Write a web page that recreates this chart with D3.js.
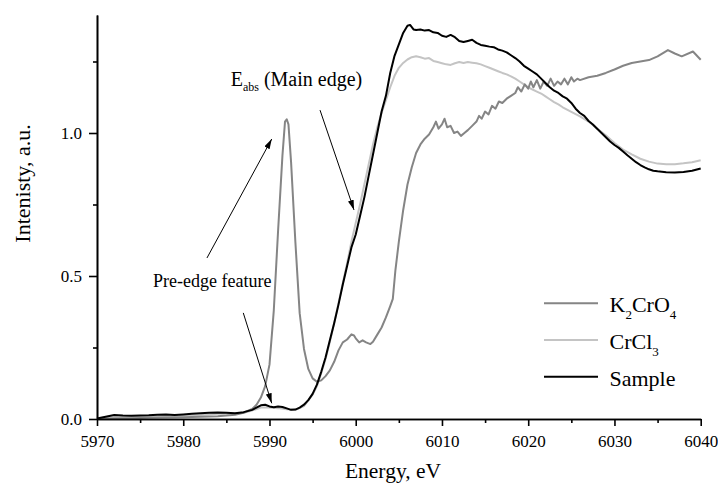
<!DOCTYPE html>
<html>
<head>
<meta charset="utf-8">
<script src="https://cdn.jsdelivr.net/npm/d3@7"></script>
<style>
  body { margin: 0; background: #fff; }
  svg { display: block; }
</style>
</head>
<body>
<svg id="chart" width="718" height="493"></svg>
<script>
// Sample (black)
const sampleEnergy = [5970, 5971, 5972, 5973, 5974, 5975, 5976, 5977, 5978, 5979, 5980, 5981, 5982, 5983, 5984, 5985, 5986, 5987, 5988, 5989, 5989.5, 5990, 5990.5, 5991, 5991.5, 5992, 5992.5, 5993, 5993.5, 5994, 5994.5, 5995, 5995.5, 5996, 5996.5, 5997, 5997.5, 5998, 5998.5, 5999, 5999.5, 6000, 6000.5, 6001, 6001.5, 6002, 6002.5, 6003, 6003.5, 6004, 6004.5, 6005, 6005.5, 6006, 6006.3, 6006.7, 6007, 6007.5, 6008, 6008.5, 6009, 6009.5, 6010, 6010.5, 6011, 6011.5, 6012, 6012.5, 6013, 6013.5, 6014, 6014.5, 6015, 6015.5, 6016, 6016.5, 6017, 6017.5, 6018, 6018.5, 6019, 6019.5, 6020, 6020.5, 6021, 6021.5, 6022, 6022.5, 6023, 6023.5, 6024, 6024.5, 6025, 6025.5, 6026, 6026.5, 6027, 6027.5, 6028, 6028.5, 6029, 6029.5, 6030, 6030.5, 6031, 6031.5, 6032, 6032.5, 6033, 6033.5, 6034, 6034.5, 6035, 6036, 6037, 6038, 6039, 6040];
const sampleIntensity = [0.002, 0.008, 0.014, 0.012, 0.011, 0.012, 0.013, 0.015, 0.016, 0.014, 0.016, 0.018, 0.02, 0.022, 0.023, 0.022, 0.02, 0.024, 0.032, 0.048, 0.05, 0.044, 0.041, 0.044, 0.042, 0.037, 0.032, 0.033, 0.04, 0.05, 0.066, 0.088, 0.12, 0.165, 0.215, 0.275, 0.335, 0.4, 0.47, 0.535, 0.6, 0.645, 0.71, 0.775, 0.85, 0.925, 1.0, 1.075, 1.13, 1.21, 1.27, 1.31, 1.35, 1.375, 1.378, 1.362, 1.36, 1.362, 1.358, 1.36, 1.352, 1.35, 1.34, 1.336, 1.343, 1.335, 1.322, 1.318, 1.322, 1.326, 1.315, 1.308, 1.305, 1.302, 1.3, 1.292, 1.288, 1.282, 1.272, 1.262, 1.25, 1.235, 1.225, 1.215, 1.205, 1.19, 1.175, 1.16, 1.148, 1.14, 1.128, 1.12, 1.105, 1.085, 1.07, 1.06, 1.042, 1.03, 1.015, 1.0, 0.985, 0.97, 0.958, 0.948, 0.935, 0.922, 0.91, 0.898, 0.888, 0.88, 0.873, 0.868, 0.866, 0.863, 0.862, 0.864, 0.868, 0.876];

// CrCl3 (light gray)
const crcl3Energy = [5970, 5972, 5974, 5976, 5978, 5980, 5982, 5984, 5986, 5987, 5988, 5989, 5990, 5991, 5992, 5993, 5994, 5995, 5995.5, 5996, 5996.5, 5997, 5997.5, 5998, 5998.5, 5999, 5999.5, 6000, 6000.5, 6001, 6001.5, 6002, 6002.5, 6003, 6003.5, 6004, 6004.5, 6005, 6005.5, 6006, 6006.5, 6007, 6007.5, 6008, 6008.5, 6009, 6009.5, 6010, 6010.5, 6011, 6011.5, 6012, 6012.5, 6013, 6013.5, 6014, 6014.5, 6015, 6015.5, 6016, 6016.5, 6017, 6017.5, 6018, 6018.5, 6019, 6019.5, 6020, 6020.5, 6021, 6021.5, 6022, 6022.5, 6023, 6023.5, 6024, 6024.5, 6025, 6026, 6027, 6028, 6029, 6030, 6031, 6032, 6033, 6034, 6035, 6036, 6037, 6038, 6039, 6040];
const crcl3Intensity = [0.0, 0.006, 0.008, 0.009, 0.01, 0.012, 0.014, 0.018, 0.018, 0.022, 0.03, 0.04, 0.04, 0.038, 0.034, 0.032, 0.045, 0.085, 0.115, 0.16, 0.21, 0.27, 0.335, 0.405, 0.475, 0.545, 0.62, 0.685, 0.75, 0.82, 0.89, 0.96, 1.02, 1.07, 1.115, 1.16, 1.2, 1.228, 1.245, 1.257, 1.265, 1.268, 1.265, 1.26, 1.262, 1.252, 1.248, 1.244, 1.24, 1.238, 1.244, 1.248, 1.245, 1.248, 1.246, 1.244, 1.24, 1.234, 1.228, 1.222, 1.216, 1.21, 1.205, 1.198, 1.19, 1.18, 1.17, 1.16, 1.152, 1.145, 1.138, 1.128, 1.118, 1.108, 1.1, 1.09, 1.082, 1.074, 1.058, 1.04, 1.015, 0.992, 0.965, 0.942, 0.925, 0.91, 0.9, 0.893, 0.891, 0.891, 0.894, 0.898, 0.905];

// K2CrO4 (medium gray)
const k2cro4Energy = [5970, 5972, 5974, 5976, 5978, 5980, 5982, 5984, 5985, 5986, 5987, 5988, 5988.5, 5989, 5989.5, 5990, 5990.5, 5991, 5991.5, 5991.8, 5992, 5992.2, 5992.5, 5993, 5993.5, 5994, 5994.5, 5995, 5995.5, 5996, 5996.5, 5997, 5997.5, 5998, 5998.5, 5999, 5999.5, 5999.8, 6000, 6000.4, 6000.8, 6001.2, 6001.7, 6002, 6002.5, 6003, 6003.5, 6004, 6004.3, 6004.6, 6005, 6005.5, 6006, 6006.5, 6007, 6007.5, 6008, 6008.5, 6009, 6009.3, 6009.6, 6010, 6010.3, 6010.6, 6011, 6011.4, 6011.8, 6012.2, 6012.6, 6013, 6013.5, 6014, 6014.3, 6014.6, 6015, 6015.4, 6015.8, 6016.2, 6016.6, 6017, 6017.5, 6018, 6018.5, 6018.8, 6019.2, 6019.6, 6020, 6020.3, 6020.6, 6021, 6021.4, 6021.8, 6022.2, 6022.6, 6023, 6023.4, 6023.8, 6024.2, 6024.6, 6025, 6025.3, 6025.7, 6026, 6027, 6028, 6029, 6030, 6031, 6032, 6033, 6034, 6035, 6036.2, 6037, 6037.8, 6039.1, 6040];
const k2cro4Intensity = [0.0, 0.002, 0.003, 0.004, 0.005, 0.006, 0.008, 0.01, 0.012, 0.015, 0.022, 0.035, 0.05, 0.075, 0.115, 0.19, 0.38, 0.66, 0.92, 1.04, 1.048, 1.03, 0.9, 0.62, 0.37, 0.245, 0.175, 0.142, 0.13, 0.135, 0.15, 0.17, 0.2, 0.24, 0.268, 0.278, 0.296, 0.292, 0.282, 0.268, 0.275, 0.268, 0.262, 0.27, 0.295, 0.32, 0.355, 0.395, 0.42, 0.52, 0.62, 0.73, 0.82, 0.88, 0.93, 0.96, 0.98, 0.995, 1.02, 1.04, 1.015, 1.03, 1.05, 1.02, 1.025, 1.0, 1.005, 0.99, 1.0, 1.01, 1.025, 1.04, 1.06, 1.05, 1.075, 1.065, 1.095, 1.085, 1.11, 1.105, 1.12, 1.13, 1.14, 1.16, 1.145, 1.17, 1.155, 1.18, 1.16, 1.185, 1.155, 1.18, 1.165, 1.19, 1.165, 1.18, 1.17, 1.19, 1.17, 1.195, 1.18, 1.19, 1.185, 1.195, 1.2, 1.21, 1.222, 1.235, 1.245, 1.25, 1.255, 1.268, 1.29, 1.278, 1.268, 1.285, 1.256];

const xTicks = [5970, 5980, 5990, 6000, 6010, 6020, 6030, 6040];
const xMinorTicks = [5975, 5985, 5995, 6005, 6015, 6025, 6035];
const yTicks = [0.0, 0.5, 1.0];
const yMinorTicks = [0.25, 0.75, 1.25];

const xDomain = [5970, 6040];
const yDomain = [0, 1.4126];

// Annotation anchors, in data units (energy, intensity).
const preEdgeLabel = {e: 5976.5, v: 0.463, text: "Pre-edge feature"};
const mainEdgeLabel = {e: 5985.5, v: 1.165};
const arrows = [
  {from: [5982.75, 0.563], to: [5990.26, 0.979]},
  {from: [5986.96, 0.371], to: [5990.26, 0.055]},
  {from: [5995.86, 1.080], to: [5999.80, 0.731]},
];

const FONT = "'Liberation Serif', 'Times New Roman', Times, serif";

// Set up SVG coordinates.

const width = 718;
const height = 493;
const margin = {top: 15, right: 17.3, bottom: 74, left: 97};
const innerWidth = width - margin.left - margin.right;
const innerHeight = height - margin.top - margin.bottom;

const svg = d3.select("#chart").style("font-family", FONT);

const xScale = d3.scaleLinear().domain(xDomain).range([0, innerWidth]);
const yScale = d3.scaleLinear().domain(yDomain).range([innerHeight, 0]);

const g = svg.append("g").attr("transform", `translate(${margin.left}, ${margin.top})`);

// Arrow marker.

svg.append("defs").append("marker")
  .attr("id", "arrowHead")
  .attr("viewBox", "0 0 10 6")
  .attr("refX", 10)
  .attr("refY", 3)
  .attr("markerWidth", 10)
  .attr("markerHeight", 6)
  .attr("markerUnits", "userSpaceOnUse")
  .attr("orient", "auto")
  .append("path")
  .attr("d", "M0,0 L10,3 L0,6 Z")
  .attr("fill", "#000");

// Draw curves.

const series = [
  {name: "CrCl3", energy: crcl3Energy, intensity: crcl3Intensity, color: "#c4c4c4"},
  {name: "K2CrO4", energy: k2cro4Energy, intensity: k2cro4Intensity, color: "#858585"},
  {name: "Sample", energy: sampleEnergy, intensity: sampleIntensity, color: "#000000"},
];

const lineGenerator = d3.line()
  .x((d) => xScale(d[0]))
  .y((d) => yScale(d[1]));

series.forEach((s) => {
  g.append("path")
    .attr("fill", "none")
    .attr("stroke", s.color)
    .attr("stroke-width", 2)
    .attr("stroke-linejoin", "round")
    .attr("d", lineGenerator(d3.zip(s.energy, s.intensity)));
});

// Draw axes.

const xAxis = d3.axisBottom(xScale)
  .tickValues(xTicks)
  .tickFormat(d3.format("d"))
  .tickSizeInner(7)
  .tickSizeOuter(0)
  .tickPadding(9);
const xMinorAxis = d3.axisBottom(xScale)
  .tickValues(xMinorTicks)
  .tickFormat("")
  .tickSizeInner(4)
  .tickSizeOuter(0);
const yAxis = d3.axisLeft(yScale)
  .tickValues(yTicks)
  .tickFormat(d3.format(".1f"))
  .tickSizeInner(8)
  .tickSizeOuter(0)
  .tickPadding(7);
const yMinorAxis = d3.axisLeft(yScale)
  .tickValues(yMinorTicks)
  .tickFormat("")
  .tickSizeInner(4)
  .tickSizeOuter(0);

const styleAxis = (sel) => {
  sel.attr("font-family", FONT).attr("font-size", 17);
  sel.selectAll("path, line").attr("stroke", "#000").attr("stroke-width", 1.6);
  sel.selectAll("text").attr("fill", "#000").style("font-family", FONT).style("font-size", "17px");
};

g.append("g").attr("transform", `translate(0, ${innerHeight})`).call(xMinorAxis).call(styleAxis);
g.append("g").attr("transform", `translate(0, ${innerHeight})`).call(xAxis).call(styleAxis);
g.append("g").call(yMinorAxis).call(styleAxis);
g.append("g").call(yAxis).call(styleAxis);

// Axis titles.

svg.append("text")
  .attr("x", 393)
  .attr("y", 478)
  .attr("text-anchor", "middle")
  .attr("font-size", 21.5)
  .text("Energy, eV");
svg.append("text")
  .attr("transform", "translate(29.5, 183.5) rotate(-90)")
  .attr("text-anchor", "middle")
  .attr("font-size", 22)
  .text("Intenisty, a.u.");

// Annotations.

arrows.forEach((a) => {
  g.append("line")
    .attr("x1", xScale(a.from[0]))
    .attr("y1", yScale(a.from[1]))
    .attr("x2", xScale(a.to[0]))
    .attr("y2", yScale(a.to[1]))
    .attr("stroke", "#000")
    .attr("stroke-width", 1)
    .attr("marker-end", "url(#arrowHead)");
});

g.append("text")
  .attr("x", xScale(preEdgeLabel.e))
  .attr("y", yScale(preEdgeLabel.v))
  .attr("font-size", 18)
  .text(preEdgeLabel.text);

const mainEdge = g.append("text")
  .attr("x", xScale(mainEdgeLabel.e))
  .attr("y", yScale(mainEdgeLabel.v))
  .attr("font-size", 20);
mainEdge.append("tspan").text("E");
mainEdge.append("tspan").attr("font-size", 12).attr("dy", 5).text("abs");
mainEdge.append("tspan").attr("dy", -5).text(" (Main edge)");

// Draw Legends.

const legendItems = [
  {color: "#858585", parts: [["K", 0], ["2", 1], ["CrO", 0], ["4", 1]]},
  {color: "#c4c4c4", parts: [["CrCl", 0], ["3", 1]]},
  {color: "#000000", parts: [["Sample", 0]]},
];
const legendX = 544;
const legendY = 303.3;
const legendRowGap = 36.7;
const legendLineLength = 54;

legendItems.forEach((item, i) => {
  const y = legendY + i * legendRowGap;
  svg.append("line")
    .attr("x1", legendX)
    .attr("x2", legendX + legendLineLength)
    .attr("y1", y)
    .attr("y2", y)
    .attr("stroke", item.color)
    .attr("stroke-width", 2);
  const t = svg.append("text")
    .attr("x", legendX + legendLineLength + 11.5)
    .attr("y", y + 9)
    .attr("font-size", 22);
  let sub = false;
  item.parts.forEach(([str, isSub]) => {
    const span = t.append("tspan").text(str);
    if (isSub && !sub) span.attr("font-size", 13).attr("dy", 7);
    if (!isSub && sub) span.attr("dy", -7);
    sub = !!isSub;
  });
});
</script>
</body>
</html>
